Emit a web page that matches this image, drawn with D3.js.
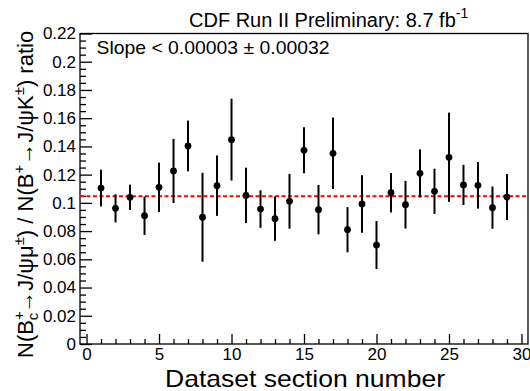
<!DOCTYPE html>
<html>
<head>
<meta charset="utf-8">
<script src="https://cdn.jsdelivr.net/npm/d3@7"></script>
<style>
  html, body { margin: 0; padding: 0; background: #fff; }
  svg { display: block; font-family: "Liberation Sans", Arial, Helvetica, sans-serif; }
</style>
</head>
<body>
<div id="chart"></div>
<script>
// ---- data ----
const sections = [1,2,3,4,5,6,7,8,9,10,11,12,13,14,15,16,17,18,19,20,21,22,23,24,25,26,27,28,29];
const ratios   = [0.1105,0.0961,0.1039,0.0909,0.1110,0.1226,0.1403,0.0898,0.1122,0.1448,
                  0.1053,0.0956,0.0888,0.1011,0.1372,0.0952,0.1351,0.0810,0.0992,0.0701,
                  0.1072,0.0987,0.1209,0.1082,0.1323,0.1127,0.1124,0.0966,0.1041];
const errors   = [0.0130,0.0100,0.0090,0.0136,0.0175,0.0227,0.0180,0.0315,0.0214,0.0290,
                  0.0196,0.0133,0.0157,0.0194,0.0163,0.0175,0.0253,0.0160,0.0204,0.0170,
                  0.0140,0.0169,0.0170,0.0160,0.0316,0.0142,0.0165,0.0150,0.0163];
const fitValue = 0.1046;
const xTickValues = [0,5,10,15,20,25,30];
const yTickValues = [0,0.02,0.04,0.06,0.08,0.1,0.12,0.14,0.16,0.18,0.2,0.22];
const titleText = "CDF Run II Preliminary: 8.7 fb";
const slopeText = "Slope < 0.00003 \u00B1 0.00032";
const xTitle = "Dataset section number";

const W = 530, H = 391;
const L = 80, R = 528, T = 33.5, B = 344;

const svg = d3.select("#chart").append("svg").attr("width", W).attr("height", H);

const x = d3.scaleLinear().domain([-0.45, 30.45]).range([L, R]);
const y = d3.scaleLinear().domain([0, 0.22]).range([B, T]);

// frame
svg.append("rect").attr("x", L).attr("y", T).attr("width", R - L).attr("height", B - T)
  .attr("fill", "none").attr("stroke", "#000").attr("stroke-width", 1.3);

// x axis ticks
const xMinor = d3.range(0, 31, 1).filter(v => !xTickValues.includes(v));
const xAxis = d3.axisBottom(x).tickValues(xTickValues).tickSize(-10).tickPadding(6)
  .tickFormat(d3.format("d"));
const gx = svg.append("g").attr("transform", `translate(0,${B})`).call(xAxis);
gx.select(".domain").remove();
gx.selectAll(".tick line").attr("stroke-width", 1.3);
gx.selectAll(".tick text").attr("font-size", 17).attr("dy", 0).attr("y", 16)
  .attr("font-family", "Liberation Sans, Arial, sans-serif").attr("fill", "#000");
const gxm = svg.append("g").attr("transform", `translate(0,${B})`)
  .call(d3.axisBottom(x).tickValues(xMinor).tickSize(-5).tickFormat(""));
gxm.select(".domain").remove();
gxm.selectAll(".tick line").attr("stroke-width", 1.3);

// y axis ticks
const yMinor = d3.range(0, 0.2201, 0.005).map(v => +v.toFixed(3))
  .filter(v => !yTickValues.some(t => Math.abs(t - v) < 1e-9));
const yAxis = d3.axisLeft(y).tickValues(yTickValues).tickSize(-12).tickPadding(5)
  .tickFormat(v => String(+v.toFixed(2)));
const gy = svg.append("g").attr("transform", `translate(${L},0)`).call(yAxis);
gy.select(".domain").remove();
gy.selectAll(".tick line").attr("stroke-width", 1.3);
gy.selectAll(".tick text").attr("font-size", 17).attr("x", -4)
  .attr("font-family", "Liberation Sans, Arial, sans-serif").attr("fill", "#000");
const gym = svg.append("g").attr("transform", `translate(${L},0)`)
  .call(d3.axisLeft(y).tickValues(yMinor).tickSize(-6).tickFormat(""));
gym.select(".domain").remove();
gym.selectAll(".tick line").attr("stroke-width", 1.3);

// fit line
svg.append("line")
  .attr("x1", x(-0.45)).attr("x2", x(30.45))
  .attr("y1", y(fitValue)).attr("y2", y(fitValue))
  .attr("stroke", "#ff0000").attr("stroke-width", 2).attr("stroke-dasharray", "4,2.5");

// error bars and points
const pts = sections.map((s, i) => ({s, v: ratios[i], e: errors[i]}));
svg.append("g").selectAll("line").data(pts).join("line")
  .attr("x1", d => x(d.s)).attr("x2", d => x(d.s))
  .attr("y1", d => y(d.v - d.e)).attr("y2", d => y(d.v + d.e))
  .attr("stroke", "#000").attr("stroke-width", 2);
svg.append("g").selectAll("circle").data(pts).join("circle")
  .attr("cx", d => x(d.s)).attr("cy", d => y(d.v)).attr("r", 3.4).attr("fill", "#000");

// title
const tt = svg.append("text").attr("x", 189).attr("y", 27.3).attr("font-size", 20).attr("fill", "#000");
tt.append("tspan").text(titleText);
tt.append("tspan").attr("font-size", 14).attr("dy", -9).text("-1");

// slope text
svg.append("text").attr("x", 96.5).attr("y", 53.5).attr("font-size", 19)
  .attr("textLength", 233).attr("lengthAdjust", "spacingAndGlyphs").text(slopeText);

// x title
svg.append("text").attr("x", 165).attr("y", 386.5).attr("font-size", 24)
  .attr("textLength", 280).attr("lengthAdjust", "spacingAndGlyphs").text(xTitle);

// y title (rotated)
const yt = svg.append("text").attr("transform", "translate(33,358) rotate(-90)")
  .attr("font-size", 22).attr("fill", "#000");
yt.append("tspan").text("N(B");
yt.append("tspan").attr("font-size", 15).attr("dy", -9).text("+");
yt.append("tspan").attr("font-size", 15).attr("dx", -9).attr("dy", 14).text("c");
yt.append("tspan").attr("dy", -5).text("\u2192J/\u03C8\u03BC");
yt.append("tspan").attr("font-size", 15).attr("dy", -9).text("\u00B1");
yt.append("tspan").attr("dy", 9).text(") / N(B");
yt.append("tspan").attr("font-size", 15).attr("dy", -9).text("+");
yt.append("tspan").attr("dy", 9).text("\u2192J/\u03C8K");
yt.append("tspan").attr("font-size", 15).attr("dy", -9).text("\u00B1");
yt.append("tspan").attr("dy", 9).text(") ratio");
</script>
</body>
</html>
